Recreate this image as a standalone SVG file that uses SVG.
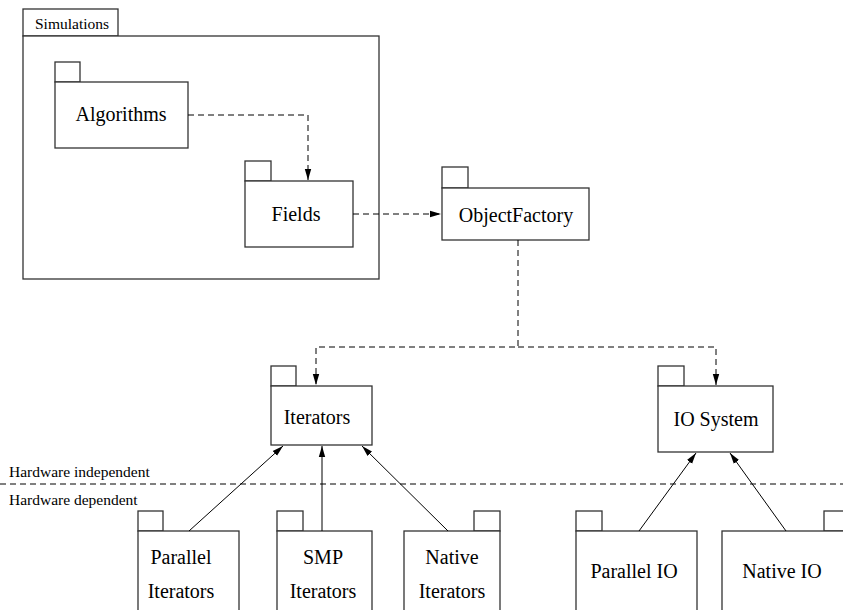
<svg xmlns="http://www.w3.org/2000/svg" width="843" height="610" viewBox="0 0 843 610">
<style>
.box{fill:#fff;stroke:#333;stroke-width:1.3}
.t{font-size:20px;fill:#000;text-anchor:middle}
.s{font-size:15.5px;fill:#000}
.dash{fill:none;stroke:#000;stroke-width:1;stroke-dasharray:6,4}
.solid{fill:none;stroke:#000;stroke-width:1}
</style>
<defs>
<marker id="ah" markerUnits="userSpaceOnUse" markerWidth="12" markerHeight="8" refX="11" refY="4" orient="auto">
<path d="M0,0.8 L11,4 L0,7.2 Z" fill="#000"/>
</marker>
</defs>
<rect width="843" height="610" fill="#fff"/>
<g font-family="'Liberation Serif', 'Times New Roman', Times, serif">
<g id="simulations">
<rect class="box" x="23" y="9" width="95" height="27"/>
<rect class="box" x="23" y="36" width="356" height="243"/>
<text class="s" x="35" y="29">Simulations</text>
</g>
<g id="algorithms">
<rect class="box" x="55" y="62" width="25" height="20"/>
<rect class="box" x="55" y="82" width="133" height="66"/>
<text class="t" x="121" y="121">Algorithms</text>
</g>
<g id="fields">
<rect class="box" x="245" y="161" width="26" height="20"/>
<rect class="box" x="245" y="181" width="108" height="66"/>
<text class="t" x="296" y="221">Fields</text>
</g>
<g id="objectfactory">
<rect class="box" x="442" y="167" width="26" height="21"/>
<rect class="box" x="442" y="188" width="147" height="52"/>
<text class="t" x="516" y="222">ObjectFactory</text>
</g>
<g id="iterators">
<rect class="box" x="271" y="366" width="25" height="20"/>
<rect class="box" x="271" y="386" width="101" height="59"/>
<text class="t" x="317" y="424">Iterators</text>
</g>
<g id="iosystem">
<rect class="box" x="658" y="366" width="26" height="20"/>
<rect class="box" x="658" y="386" width="115" height="66"/>
<text class="t" x="716" y="426">IO System</text>
</g>
<g id="parallel-iterators">
<rect class="box" x="138" y="511" width="25" height="20"/>
<rect class="box" x="138" y="531" width="101" height="90"/>
<text class="t" x="181" y="564">Parallel</text>
<text class="t" x="181" y="598">Iterators</text>
</g>
<g id="smp-iterators">
<rect class="box" x="277" y="511" width="26" height="20"/>
<rect class="box" x="277" y="531" width="95" height="90"/>
<text class="t" x="323" y="564">SMP</text>
<text class="t" x="323" y="598">Iterators</text>
</g>
<g id="native-iterators">
<rect class="box" x="474" y="511" width="26" height="20"/>
<rect class="box" x="404" y="531" width="96" height="90"/>
<text class="t" x="452" y="564">Native</text>
<text class="t" x="452" y="598">Iterators</text>
</g>
<g id="parallel-io">
<rect class="box" x="576" y="511" width="26" height="20"/>
<rect class="box" x="576" y="531" width="121" height="90"/>
<text class="t" x="634" y="578">Parallel IO</text>
</g>
<g id="native-io">
<rect class="box" x="824" y="511" width="26" height="20"/>
<rect class="box" x="722" y="531" width="140" height="90"/>
<text class="t" x="782" y="578">Native IO</text>
</g>
<g id="layer-separator">
<line class="dash" x1="0" y1="484" x2="843" y2="484" stroke="#444"/>
<text class="s" x="9" y="477">Hardware independent</text>
<text class="s" x="9" y="505">Hardware dependent</text>
</g>
</g>
<g id="connectors">
<path class="dash" d="M188,115 H308 V180" marker-end="url(#ah)"/>
<path class="dash" d="M353,214 H441" marker-end="url(#ah)"/>
<path class="dash" d="M518,240 V347 H316 V385" marker-end="url(#ah)"/>
<path class="dash" d="M518,347 H716 V385" marker-end="url(#ah)"/>
<path class="solid" d="M189,531 L283,446" marker-end="url(#ah)"/>
<path class="solid" d="M322,531 L322,446" marker-end="url(#ah)"/>
<path class="solid" d="M448,531 L362,446" marker-end="url(#ah)"/>
<path class="solid" d="M639,531 L696,453" marker-end="url(#ah)"/>
<path class="solid" d="M786,531 L730,453" marker-end="url(#ah)"/>
</g>
</svg>
